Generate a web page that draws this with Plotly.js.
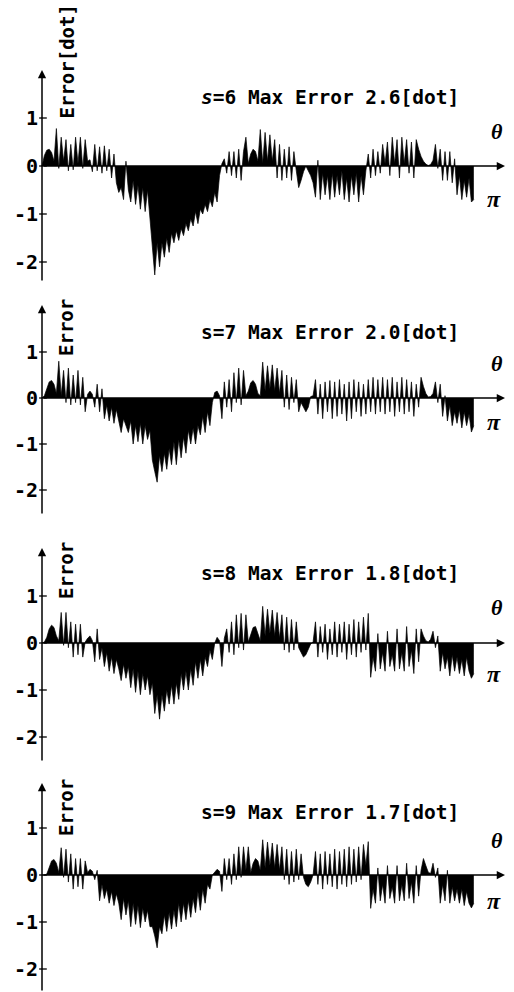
<!DOCTYPE html>
<html><head><meta charset="utf-8">
<script src="https://cdn.plot.ly/plotly-3.0.1.min.js"></script>
<style>html,body{margin:0;padding:0;background:#fff}#chart{width:514px;height:992px}</style>
</head><body><div id="chart"></div>
<script>
// Error [dot] sampled every 1 degree of theta (0 .. 180 deg = 0 .. pi)
const errS6 = [
 0, 0.22, 0.33, 0.35, 0.28, 0.1, 0.78, -0.05, 0.6, 0.1,
 0.55, -0.1, 0.45, -0.08, 0.6, 0.05, 0.6, -0.05, 0.55, 0.1,
 0.13, -0.12, 0.45, -0.1, 0.4, -0.15, 0.42, -0.1, 0.35, -0.25,
 0.25, -0.35, -0.55, -0.45, -0.7, 0.1, -0.5, -0.75, -0.3, -0.8,
 -0.4, -0.9, -0.45, -0.95, -0.5, -1.1, -1.6, -2.27, -1.6, -2.1,
 -1.6, -1.9, -1.5, -1.8, -1.4, -1.6, -1.35, -1.55, -1.3, -1.45,
 -1.2, -1.35, -1.1, -1.25, -0.95, -1.2, -0.9, -1.0, -0.8, -0.95,
 -0.7, -0.85, -0.55, -0.75, -0.2, 0.05, 0.15, -0.15, 0.3, -0.2,
 0.3, -0.25, 0.35, -0.3, 0.3, 0.6, 0.05, 0.25, 0.35, 0.3,
 0.1, 0.76, 0.05, 0.7, 0.1, 0.65, 0.1, 0.55, -0.25, 0.45,
 -0.3, 0.35, -0.25, 0.4, -0.3, 0.3, -0.1, -0.45, -0.3, -0.12,
 0, -0.1, -0.2, -0.35, -0.65, 0.12, -0.7, -0.15, -0.6, -0.2,
 -0.7, -0.15, -0.65, -0.2, -0.6, -0.1, -0.7, -0.25, -0.75, -0.2,
 -0.6, -0.15, -0.75, -0.2, -0.6, -0.1, 0.25, -0.25, 0.35, -0.2,
 0.3, -0.15, 0.45, 0.05, 0.5, -0.2, 0.6, 0.05, 0.55, -0.25,
 0.6, 0.05, 0.55, -0.15, 0.5, -0.25, 0.55, 0.35, 0.2, 0.1,
 0.04, 0.01, 0.03, 0.12, 0.45, -0.05, 0.35, -0.3, 0.3, -0.3,
 0.3, -0.35, 0.15, -0.6, -0.2, -0.7, -0.3, -0.65, -0.25, -0.75,
 -0.7
];
const errS7 = [
 0, 0.05, 0.2, 0.35, 0.38, 0.3, 0.1, 0.8, 0.05, 0.6,
 -0.1, 0.65, -0.15, 0.5, -0.1, 0.6, -0.15, 0.45, -0.3, 0.08,
 0.15, 0.08, -0.2, 0.3, -0.3, 0.2, -0.45, -0.15, -0.5, -0.2,
 -0.55, -0.25, -0.5, -0.75, -0.45, -0.6, -0.75, -0.5, -1.0, -0.6,
 -0.95, -0.55, -1.0, -0.6, -0.9, -0.7, -1.35, -1.6, -1.83, -1.25,
 -1.6, -1.2, -1.55, -1.1, -1.45, -0.95, -1.45, -0.9, -1.3, -0.85,
 -1.2, -0.7, -1.0, -0.65, -1.0, -0.6, -0.8, -0.4, -0.75, -0.3,
 -0.6, -0.1, 0.12, 0.15, 0.05, -0.45, 0.35, -0.2, 0.4, -0.3,
 0.55, -0.1, 0.65, -0.15, 0.6, 0.05, 0.15, 0.33, 0.38, 0.3,
 0.1, 0.05, 0.78, 0.15, 0.7, 0.2, 0.72, 0.15, 0.65, 0.1,
 0.6, -0.2, 0.5, -0.25, 0.45, -0.1, 0.4, -0.3, -0.1, -0.2,
 -0.3, -0.2, 0.03, 0.05, 0.4, -0.35, 0.3, -0.45, 0.35, -0.3,
 0.38, -0.45, 0.35, -0.4, 0.4, -0.35, 0.3, -0.5, 0.35, -0.45,
 0.4, -0.3, 0.35, -0.4, 0.3, -0.35, 0.4, -0.3, 0.45, -0.35,
 0.4, -0.3, 0.45, -0.35, 0.4, -0.3, 0.45, -0.4, 0.35, -0.3,
 0.45, -0.35, 0.4, -0.3, 0.35, -0.4, 0.3, -0.2, 0.45, 0.25,
 0.1, 0.02, 0.03, 0.1, 0.35, -0.1, 0.3, -0.4, 0.05, -0.5,
 -0.15, -0.6, -0.3, -0.55, -0.25, -0.65, -0.3, -0.6, -0.35, -0.74,
 -0.6
];
const errS8 = [
 0, 0.02, 0.12, 0.3, 0.38, 0.33, 0.15, 0.05, 0.65, -0.05,
 0.65, -0.1, 0.45, -0.3, 0.4, -0.25, 0.4, -0.3, 0.02, 0.1,
 0.15, 0.05, -0.4, 0.3, -0.35, -0.1, -0.5, -0.2, -0.6, -0.3,
 -0.65, -0.35, -0.55, -0.8, -0.45, -0.75, -0.5, -0.95, -0.55, -1.05,
 -0.6, -1.1, -0.65, -1.0, -0.7, -1.1, -0.85, -1.5, -1.1, -1.62,
 -1.1, -1.45, -1.0, -1.3, -0.9, -1.3, -0.85, -1.2, -0.65, -1.0,
 -0.6, -1.0, -0.55, -0.9, -0.4, -0.75, -0.35, -0.7, -0.3, -0.5,
 -0.15, -0.35, 0.0, 0.12, 0.05, -0.5, 0.1, 0.3, -0.2, 0.45,
 -0.25, 0.6, -0.1, 0.63, -0.15, 0.6, 0.02, 0.2, 0.33, 0.35,
 0.2, 0.05, 0.78, 0.15, 0.72, 0.2, 0.7, 0.15, 0.65, 0.1,
 0.6, -0.15, 0.55, -0.2, 0.5, -0.15, 0.45, -0.1, -0.2, -0.3,
 -0.25, -0.12, -0.02, 0.02, 0.45, -0.3, 0.35, -0.2, 0.4, -0.35,
 0.3, -0.25, 0.45, -0.3, 0.4, -0.2, 0.45, -0.35, 0.4, -0.25,
 0.5, -0.3, 0.45, -0.2, 0.55, -0.15, 0.63, -0.73, -0.3, -0.6,
 0.2, -0.55, -0.2, -0.6, 0.25, -0.5, -0.25, -0.6, 0.3, -0.55,
 -0.2, -0.6, 0.35, -0.5, -0.15, -0.65, 0.3, -0.4, 0.3, 0.15,
 0.05, 0.02, 0.08, 0.25, -0.1, 0.15, -0.6, -0.2, -0.55, -0.3,
 -0.7, -0.25, -0.6, -0.3, -0.65, -0.35, -0.7, -0.3, -0.6, -0.75,
 -0.65
];
const errS9 = [
 0, 0, 0.02, 0.15, 0.3, 0.33, 0.25, 0.05, 0.58, -0.05,
 0.55, -0.15, 0.45, -0.3, 0.35, -0.25, 0.35, -0.3, 0.3, 0.05,
 0.12, 0.08, -0.1, 0.1, -0.55, -0.2, -0.5, -0.3, -0.6, -0.35,
 -0.65, -0.4, -0.6, -0.95, -0.5, -0.85, -0.55, -1.1, -0.6, -1.05,
 -0.65, -1.12, -0.7, -1.0, -0.75, -1.1, -1.1, -1.3, -1.55, -1.1,
 -1.25, -0.85, -1.2, -0.8, -1.15, -0.75, -1.1, -0.6, -1.0, -0.6,
 -0.95, -0.55, -0.9, -0.5, -0.8, -0.35, -0.75, -0.3, -0.6, -0.2,
 -0.3, 0.0, 0.05, 0.12, 0.08, -0.35, 0.35, -0.1, 0.35, -0.2,
 0.45, -0.1, 0.6, -0.05, 0.6, 0.1, 0.6, 0.05, 0.25, 0.35,
 0.3, 0.1, 0.75, 0.15, 0.7, 0.2, 0.68, 0.15, 0.65, 0.1,
 0.6, -0.1, 0.55, -0.2, 0.5, -0.15, 0.55, -0.1, 0.45, -0.05,
 -0.2, -0.25, -0.15, 0.0, 0.5, -0.2, 0.45, -0.3, 0.5, -0.2,
 0.45, -0.25, 0.55, -0.3, 0.5, -0.2, 0.55, -0.25, 0.6, -0.2,
 0.55, -0.15, 0.6, -0.1, 0.65, 0.2, 0.71, -0.71, -0.3, -0.6,
 0.15, -0.55, -0.2, -0.6, 0.2, -0.5, -0.25, -0.6, 0.2, -0.55,
 -0.2, -0.55, 0.25, -0.5, -0.15, -0.6, 0.2, -0.45, 0.1, 0.35,
 0.2, 0.06, 0.03, 0.25, -0.05, 0.15, -0.6, -0.2, -0.55, 0.1,
 -0.6, -0.25, -0.55, -0.3, -0.6, -0.3, -0.65, -0.35, -0.6, -0.7,
 -0.6
];
const seriesLabels = ['s=6', 's=7', 's=8', 's=9'];
const maxErrors = ['2.6', '2.0', '1.8', '1.7'];
const yAxisTitles = ['Error[dot]', 'Error', 'Error', 'Error'];
const yTickVals = [-2, -1, 0, 1];
const yTickText = ['-2', '-1', '0', '1'];
const allSeries = [errS6, errS7, errS8, errS9];

const W = 514, H = 992;
const X0 = 42, XEND = 505, XMAXDEG = 193;
const ppd = (XEND - X0) / XMAXDEG;
const xDomL = 39, xDomR = 510;
const xRange = [-(X0 - xDomL) / ppd, XMAXDEG + (xDomR - XEND) / ppd];

// pixel geometry of each panel
const geo = [
  {zero:166, unit:48, top:62,  bot:285, axTop:70,  axBot:282, titleY:97,  errY:61.5, thY:131, piY:199},
  {zero:398, unit:46, top:297, bot:520, axTop:305, axBot:515, titleY:332, errY:328,  thY:363, piY:422},
  {zero:643, unit:47, top:540, bot:767, axTop:548, axBot:762, titleY:573, errY:571,  thY:607, piY:674},
  {zero:875, unit:47, top:775, bot:992, axTop:783, axBot:992, titleY:812, errY:808,  thY:840, piY:901}
];

const data = [];
const layout = {
  width: W, height: H, margin: {l:0, r:0, t:0, b:0},
  paper_bgcolor: '#fff', plot_bgcolor: '#fff', showlegend: false,
  annotations: [], shapes: []
};
const monoFont = 'DejaVu Sans Mono, Liberation Mono, monospace';

allSeries.forEach((vals, i) => {
  const g = geo[i];
  const n = i === 0 ? '' : String(i + 1);
  const xa = 'x' + n, ya = 'y' + n;
  const theta = vals.map((_, k) => k);
  data.push({
    type: 'scatter', mode: 'lines', x: theta, y: vals, xaxis: xa, yaxis: ya,
    fill: 'tozeroy', fillcolor: '#000', line: {color: '#000', width: 0.7},
    hoverinfo: 'skip'
  });
  layout['xaxis' + n] = {
    domain: [xDomL / W, xDomR / W], range: xRange, anchor: ya,
    visible: false, fixedrange: true
  };
  layout['yaxis' + n] = {
    domain: [1 - g.bot / H, 1 - g.top / H],
    range: [-(g.bot - g.zero) / g.unit, (g.zero - g.top) / g.unit],
    anchor: xa, showgrid: false, zeroline: false, showline: false, ticks: '',
    tickmode: 'array', tickvals: yTickVals, ticktext: yTickText,
    tickfont: {family: monoFont, size: 20, color: '#000', weight: 'bold'},
    ticklabelstandoff: 0, fixedrange: true
  };
  const yTop = (g.zero - g.axTop) / g.unit, yBot = -(g.axBot - g.zero) / g.unit;
  // y axis arrow
  layout.annotations.push({
    xref: xa, yref: ya, axref: xa, ayref: ya, x: 0, y: yTop, ax: 0, ay: yBot,
    text: '', showarrow: true, arrowhead: 2, arrowsize: 1.1, arrowwidth: 1.5,
    arrowcolor: '#000', standoff: 0, startstandoff: 0
  });
  // x axis arrow
  layout.annotations.push({
    xref: xa, yref: ya, axref: xa, ayref: ya, x: XMAXDEG, y: 0, ax: 0, ay: 0,
    text: '', showarrow: true, arrowhead: 2, arrowsize: 1.1, arrowwidth: 1.5,
    arrowcolor: '#000', standoff: 0, startstandoff: 0
  });
  // tick marks crossing the axis
  yTickVals.forEach(v => {
    layout.shapes.push({type: 'line', xref: xa, yref: ya, x0: -1.2, x1: 2, y0: v, y1: v,
      line: {color: '#000', width: 1.3}});
  });
  // panel title
  const sTxt = i === 0 ? '<i>s</i>' + seriesLabels[i].slice(1) : seriesLabels[i];
  layout.annotations.push({
    xref: 'paper', yref: 'paper', x: 330 / W, y: 1 - g.titleY / H,
    xanchor: 'center', yanchor: 'middle', showarrow: false,
    text: sTxt + ' Max Error ' + maxErrors[i] + '[dot]',
    font: {family: monoFont, size: 19.5, color: '#000', weight: 'bold'}
  });
  // vertical axis title
  layout.annotations.push({
    xref: 'paper', yref: 'paper', x: 66 / W, y: 1 - g.errY / H,
    xanchor: 'center', yanchor: 'middle', showarrow: false, textangle: -90,
    text: yAxisTitles[i],
    font: {family: monoFont, size: 19, color: '#000', weight: 'bold'}
  });
  // theta and pi labels
  layout.annotations.push({
    xref: 'paper', yref: 'paper', x: 497 / W, y: 1 - g.thY / H,
    xanchor: 'center', yanchor: 'middle', showarrow: false,
    text: '<b><i>θ</i></b>', font: {family: 'Liberation Serif, serif', size: 22, color: '#000'}
  });
  layout.annotations.push({
    xref: 'paper', yref: 'paper', x: 494 / W, y: 1 - g.piY / H,
    xanchor: 'center', yanchor: 'middle', showarrow: false,
    text: '<b><i>π</i></b>', font: {family: 'Liberation Serif, serif', size: 24, color: '#000'}
  });
});

Plotly.newPlot('chart', data, layout, {displayModeBar: false, staticPlot: true});
</script>
</body></html>
